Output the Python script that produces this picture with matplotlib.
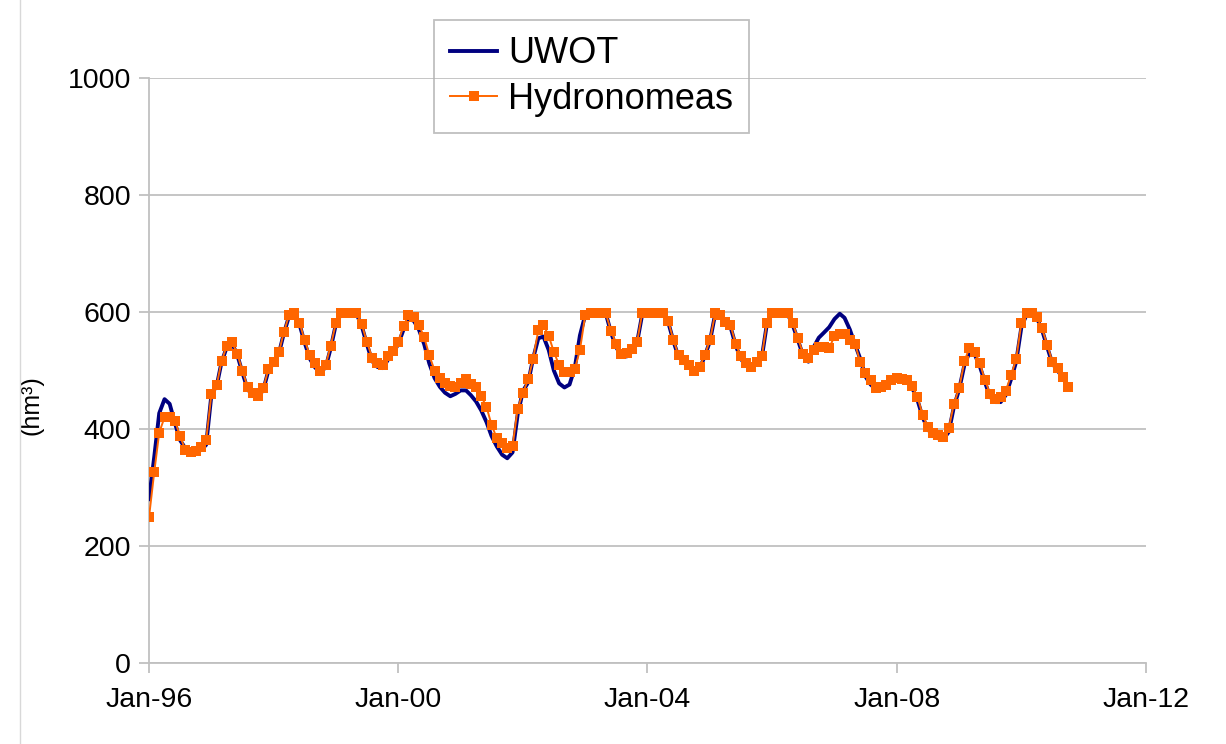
import matplotlib
matplotlib.use("Agg")
import matplotlib.pyplot as plt
import matplotlib.dates as mdates
import pandas as pd
import numpy as np

plt.rcParams['font.family'] = ['Liberation Sans', 'DejaVu Sans']

start_date = "1996-01-01"

hydronomeas = [
    249, 327, 394, 420, 420, 414, 388, 364, 360, 363, 369, 381,   # 1996
    460, 475, 516, 542, 549, 529, 500, 472, 461, 456, 470, 502,   # 1997
    515, 532, 565, 595, 598, 582, 552, 526, 512, 500, 509, 542,   # 1998
    582, 598, 598, 598, 598, 579, 549, 522, 512, 509, 524, 534,   # 1999
    549, 576, 595, 592, 578, 557, 526, 500, 487, 478, 473, 471,   # 2000
    478, 485, 477, 471, 456, 438, 407, 384, 376, 367, 371, 435,   # 2001
    462, 485, 519, 569, 578, 559, 532, 509, 498, 498, 503, 535,   # 2002
    595, 598, 598, 598, 598, 568, 546, 528, 530, 536, 549, 598,   # 2003
    598, 598, 598, 598, 585, 552, 526, 518, 509, 499, 506, 526,   # 2004
    552, 598, 595, 583, 578, 546, 524, 512, 506, 515, 524, 582,   # 2005
    598, 598, 598, 598, 581, 555, 529, 521, 535, 541, 541, 538,   # 2006
    559, 563, 563, 552, 546, 515, 496, 484, 470, 471, 475, 484,   # 2007
    487, 485, 483, 473, 455, 424, 404, 393, 390, 387, 401, 443,   # 2008
    470, 516, 538, 532, 513, 484, 460, 452, 454, 465, 492, 519,   # 2009
    582, 598, 598, 592, 572, 544, 515, 504, 489, 472,             # 2010
]

uwot = [
    280, 353, 427, 451, 443, 410, 381, 367, 361, 361, 364, 373,   # 1996
    459, 474, 514, 540, 547, 527, 497, 468, 457, 454, 467, 500,   # 1997
    513, 530, 563, 593, 597, 579, 548, 520, 505, 497, 505, 538,   # 1998
    580, 597, 598, 598, 597, 576, 545, 516, 506, 504, 518, 530,   # 1999
    545, 570, 588, 585, 570, 545, 512, 487, 472, 462, 456, 460,   # 2000
    466, 466, 458, 447, 432, 412, 388, 370, 356, 350, 360, 425,   # 2001
    465, 480, 520, 555, 558, 535, 500, 478, 471, 476, 505, 560,   # 2002
    595, 598, 598, 598, 598, 565, 540, 525, 524, 532, 548, 596,   # 2003
    598, 598, 598, 598, 583, 550, 523, 514, 505, 497, 503, 524,   # 2004
    550, 597, 594, 582, 575, 543, 520, 508, 503, 512, 522, 580,   # 2005
    598, 598, 598, 597, 578, 552, 525, 515, 540, 556, 565, 574,   # 2006
    588, 597, 590, 570, 545, 520, 490, 476, 468, 469, 474, 482,   # 2007
    485, 483, 480, 470, 450, 420, 400, 388, 384, 383, 395, 438,   # 2008
    468, 510, 530, 528, 508, 480, 455, 446, 446, 458, 485, 515,   # 2009
    575, 596, 597, 590, 570, 540, 512, 500, 487, 472,             # 2010
]

series_labels = ["UWOT", "Hydronomeas"]
y_ticks = [0, 200, 400, 600, 800, 1000]
x_tick_years = [1996, 2000, 2004, 2008, 2012]
y_label = "(hm³)"

dates = pd.date_range(start_date, periods=len(hydronomeas), freq="MS")

fig = plt.figure(figsize=(12.26, 7.44), dpi=100)
ax = fig.add_axes([149/1226, 1 - 663/744, (1146-149)/1226, (663-78)/744])

grid_c = "#c0c0c0"
ax.set_ylim(0, 1000)
ax.set_xlim(pd.Timestamp("1996-01-01"), pd.Timestamp("2012-01-01"))
ax.set_yticks(y_ticks)
ax.yaxis.grid(True, color=grid_c, linewidth=1.3)
ax.set_axisbelow(True)
ax.set_xticks([pd.Timestamp(f"{y}-01-01") for y in x_tick_years])
ax.xaxis.set_major_formatter(mdates.DateFormatter("%b-%y"))

for s in ["top", "right"]:
    ax.spines[s].set_visible(False)
for s in ["left", "bottom"]:
    ax.spines[s].set_color(grid_c)
    ax.spines[s].set_linewidth(1.3)
ax.tick_params(axis="both", colors=grid_c, length=7, width=1.3, labelsize=20.5,
               labelcolor="black")
ax.tick_params(axis="x", pad=10)
ax.tick_params(axis="y", pad=6)

l1, = ax.plot(dates, uwot, color="#000080", linewidth=2.8, label=series_labels[0], zorder=3)
l2, = ax.plot(dates, hydronomeas, color="#ff6600", linewidth=1.4, marker="s",
              markersize=6.5, markeredgewidth=0, label=series_labels[1], zorder=4)

ax.set_ylabel(y_label, fontsize=18)
ax.yaxis.set_label_coords(-0.106, 0.44)

leg = fig.legend(handles=[l1, l2], loc="upper left",
                 bbox_to_anchor=(434/1226, 1 - 20/744), bbox_transform=fig.transFigure,
                 fontsize=26, frameon=True, fancybox=False,
                 handlelength=1.3, handletextpad=0.3,
                 borderpad=0.45, labelspacing=0.3, borderaxespad=0)
frame = leg.get_frame()
frame.set_facecolor("none")
frame.set_edgecolor("#b0b0b0")
frame.set_linewidth(1.3)

fig.add_artist(plt.Line2D([20/1226, 20/1226], [0, 1], color="#d8d8d8", linewidth=1,
                          transform=fig.transFigure))

fig.savefig("out.png", dpi=100)
